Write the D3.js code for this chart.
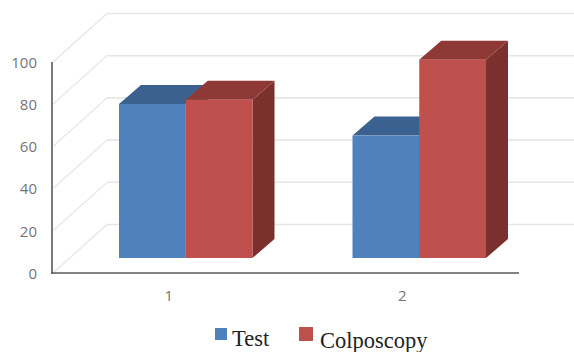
<!DOCTYPE html>
<html>
<head>
<meta charset="utf-8">
<script src="https://cdn.jsdelivr.net/npm/d3@7"></script>
<style>
html,body{margin:0;padding:0;background:#fff}
svg{display:block}
</style>
</head>
<body>
<svg id="chart" width="574" height="352"></svg>
<script>
// Chart data
const categories = ["1", "2"];
const seriesNames = ["Test", "Colposcopy"];
const testValues = [73, 58];
const colposcopyValues = [75, 94];
const yTicks = [0, 20, 40, 60, 80, 100];

const seriesValues = [testValues, colposcopyValues];
const faceColors = [
  {front: "#4f81bd", top: "#3a618f", side: "#2f5079"},
  {front: "#c0504d", top: "#8e3936", side: "#7b302e"}
];

const svg = d3.select("#chart");

// Oblique projection: the axis sits on the front plane, the grid on the back wall
const wallDepth = {dx: 55, dy: -48.5};
const barDepth = {dx: 22, dy: -19};
const y = d3.scaleLinear().domain([0, 100]).range([273, 62]);
const barHeight = d3.scaleLinear().domain([0, 100]).range([0, 211]);
const barBaseY = 258;
const barShiftX = 17;   // bars stand partway into the depth of the floor

const x = d3.scaleBand().domain(categories).range([52, 519]);
const groupWidth = 133.5;
const seriesX = d3.scaleBand().domain(seriesNames).range([0, groupWidth]);

// Back-wall gridlines with their diagonal return to the axis
const grid = svg.append("g").attr("fill", "none");
grid.selectAll("line.wall").data(yTicks).join("line")
  .attr("class", "wall")
  .attr("x1", 52 + wallDepth.dx).attr("x2", 574)
  .attr("y1", d => y(d) + wallDepth.dy).attr("y2", d => y(d) + wallDepth.dy)
  .attr("stroke", "#e6e6e6").attr("stroke-width", 1.6);
grid.selectAll("line.return").data(yTicks).join("line")
  .attr("class", "return")
  .attr("x1", 53).attr("y1", d => y(d))
  .attr("x2", 52 + wallDepth.dx).attr("y2", d => y(d) + wallDepth.dy)
  .attr("stroke", "#e4e4e4").attr("stroke-width", 1.1);

// Bars, series by series so each red block overlaps its blue neighbour
const poly = pts => pts.map(p => p.join(",")).join(" ");
const bars = svg.append("g");
categories.forEach(cat => {
  const c = categories.indexOf(cat);
  const groupX = x(cat) + x.bandwidth() / 2 + barShiftX - groupWidth / 2;
  seriesNames.forEach((name, s) => {
    const v = seriesValues[s][c];
    const x0 = groupX + seriesX(name), x1 = x0 + seriesX.bandwidth();
    const yTop = barBaseY - barHeight(v);
    const {dx, dy} = barDepth;
    const col = faceColors[s];
    const g = bars.append("g").attr("class", "bar");
    g.append("polygon").attr("fill", col.side)
      .attr("points", poly([[x1, yTop], [x1 + dx, yTop + dy], [x1 + dx, barBaseY + dy], [x1, barBaseY]]));
    g.append("polygon").attr("fill", col.top)
      .attr("points", poly([[x0, yTop], [x0 + dx, yTop + dy], [x1 + dx, yTop + dy], [x1, yTop]]));
    g.append("rect").attr("fill", col.front)
      .attr("x", x0).attr("y", yTop)
      .attr("width", x1 - x0).attr("height", barBaseY - yTop);
  });
});

// Axis lines on the front plane
svg.append("line").attr("x1", 52).attr("x2", 52).attr("y1", y(100)).attr("y2", y(0) + 1)
  .attr("stroke", "#5a5a5a").attr("stroke-width", 1.6);
svg.append("line").attr("x1", 51).attr("x2", 519).attr("y1", y(0)).attr("y2", y(0))
  .attr("stroke", "#5a5a5a").attr("stroke-width", 1.6);

// Tick labels
const tickFont = "'Open Sans', 'DejaVu Sans', sans-serif";
svg.append("g").selectAll("text").data(yTicks).join("text")
  .attr("x", 37).attr("y", d => y(d) + 0.5)
  .attr("dy", "0.35em").attr("text-anchor", "end")
  .attr("font-family", tickFont).attr("font-size", 15).attr("fill", "#757575")
  .text(d => d);
svg.append("g").selectAll("text").data(categories).join("text")
  .attr("x", d => x(d) + x.bandwidth() / 2)
  .attr("y", 301).attr("text-anchor", "middle")
  .attr("font-family", tickFont).attr("font-size", 15).attr("fill", "#757575")
  .text(d => d);

// Legend
const legendItems = [
  {name: seriesNames[0], color: faceColors[0].front, sx: 215, sy: 328, size: 12, tx: 232, ty: 346, fs: 22.5},
  {name: seriesNames[1], color: faceColors[1].front, sx: 299, sy: 327, size: 14, tx: 320, ty: 348, fs: 22.5}
];
const legend = svg.append("g");
legendItems.forEach(d => {
  legend.append("rect").attr("x", d.sx).attr("y", d.sy).attr("width", d.size).attr("height", d.size).attr("fill", d.color);
  legend.append("text").attr("x", d.tx).attr("y", d.ty)
    .attr("font-family", "'Liberation Serif', serif").attr("font-size", d.fs).attr("fill", "#222")
    .text(d.name);
});
</script>
</body>
</html>
